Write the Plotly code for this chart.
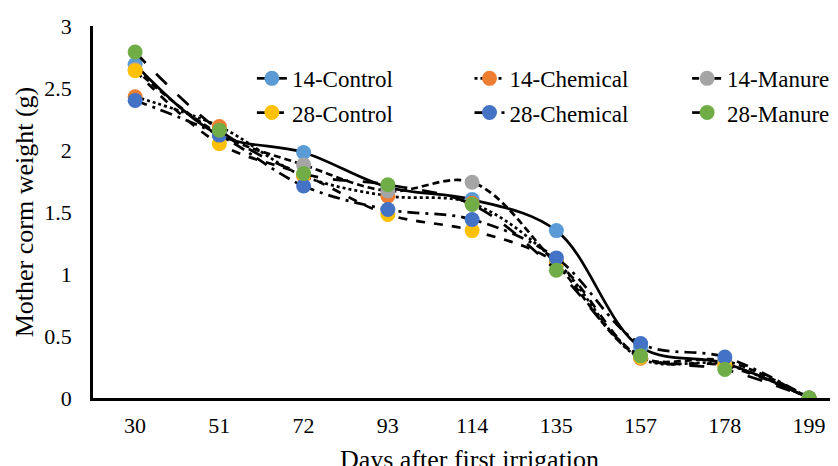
import plotly.graph_objects as go

days = ["30", "51", "72", "93", "114", "135", "157", "178", "199"]

control_14 = [2.69, 2.12, 1.98, 1.70, 1.60, 1.35, 0.41, 0.28, 0.0]
chemical_14 = [2.43, 2.19, 1.79, 1.63, 1.57, 1.10, 0.32, 0.27, 0.0]
manure_14 = [2.65, 2.13, 1.88, 1.67, 1.74, 1.08, 0.33, 0.30, 0.0]
control_28 = [2.64, 2.05, 1.80, 1.48, 1.35, 1.09, 0.33, 0.26, 0.0]
chemical_28 = [2.40, 2.12, 1.71, 1.52, 1.44, 1.13, 0.44, 0.33, 0.0]
manure_28 = [2.79, 2.16, 1.81, 1.72, 1.56, 1.03, 0.34, 0.23, 0.0]

series = [
    ("14-Control", control_14, "#5B9BD5", "solid"),
    ("14-Chemical", chemical_14, "#ED7D31", "dot"),
    ("14-Manure", manure_14, "#A5A5A5", "7px,4px"),
    ("28-Control", control_28, "#FFC000", "dash"),
    ("28-Chemical", chemical_28, "#4472C4", "12px,6px,3px,6px"),
    ("28-Manure", manure_28, "#70AD47", "longdash"),
]

FONT = "Liberation Serif"
legend_ids = ["legend", "legend2", "legend3", "legend4", "legend5", "legend6"]
legend_x = [0.211, 0.500, 0.789]
legend_y = [0.917, 0.825]

fig = go.Figure()
for i, (name, vals, color, dash) in enumerate(series):
    fig.add_trace(go.Scatter(
        x=days, y=vals, name=name, mode="lines+markers", legend=legend_ids[i],
        line=dict(color="black", width=2.7, dash=dash, shape="spline", smoothing=1.0),
        marker=dict(color=color, size=15, line=dict(width=0)),
    ))

legend_layout = {}
for i, lid in enumerate(legend_ids):
    legend_layout[lid] = dict(
        orientation="h", xanchor="left", yanchor="top",
        x=legend_x[i % 3], y=legend_y[i // 3],
        font=dict(family=FONT, size=23, color="black"),
        bgcolor="rgba(0,0,0,0)", itemwidth=30,
    )

fig.update_layout(
    width=838, height=466,
    margin=dict(l=85, r=0, t=18, b=76),
    paper_bgcolor="white", plot_bgcolor="white",
    font=dict(family=FONT, size=22, color="black"),
    showlegend=True,
    xaxis=dict(
        type="category", range=[-0.5, 8.438], automargin=False,
        showline=True, linecolor="black", linewidth=2.5,
        showgrid=False, zeroline=False, ticks="",
        ticklabelstandoff=6,
        tickfont=dict(family=FONT, size=22),
        title=dict(text="Days after first irrigation", font=dict(family=FONT, size=26), standoff=22),
    ),
    yaxis=dict(
        range=[0, 3], dtick=0.5, tickformat="~g", automargin=False,
        showline=True, linecolor="black", linewidth=2.5,
        showgrid=False, zeroline=False, ticks="",
        ticklabelstandoff=14,
        tickfont=dict(family=FONT, size=22),
        title=dict(text="Mother corm weight (g)", font=dict(family=FONT, size=26), standoff=4),
    ),
    **legend_layout,
)

fig.write_html("out.html")
